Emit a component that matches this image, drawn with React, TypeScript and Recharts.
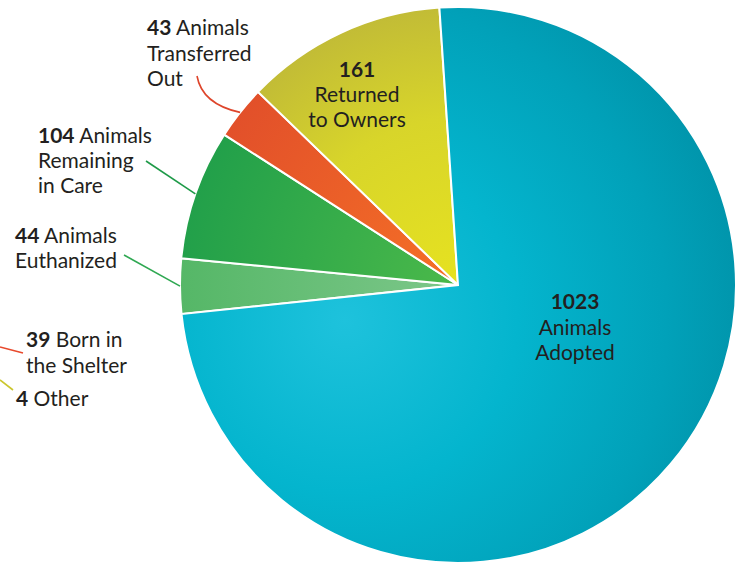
import React from 'react';
import { PieChart, Pie, Cell } from 'recharts';

// ---- data ----
const categories = [
  'Animals Euthanized',
  'Animals Remaining in Care',
  'Animals Transferred Out',
  'Returned to Owners',
  'Animals Adopted',
];
const counts = [44, 104, 43, 161, 1023];
const offChartCategories = ['Born in the Shelter', 'Other'];
const offChartCounts = [39, 4];

const data = categories.map((name, i) => ({ name, value: counts[i] }));

// ---- styling / layout (not data) ----
const FONT = 'Lato, "Open Sans", sans-serif';
const TEXT = '#231F20';
const CX = 458;
const CY = 285;
const R = 278;
const FS = 21;

const FILLS: Record<string, string> = {
  'Animals Euthanized': 'url(#gEuth)',
  'Animals Remaining in Care': 'url(#gRemain)',
  'Animals Transferred Out': 'url(#gTrans)',
  'Returned to Owners': 'url(#gReturn)',
  'Animals Adopted': 'url(#gAdopt)',
};

type Layout = {
  x: number;
  y: number;
  anchor: 'start' | 'middle';
  rest: string[];
  lh: number;
  line?: { x: number; y: number; color: string; curve?: boolean };
};

const LAYOUT: Record<string, Layout> = {
  'Animals Euthanized': {
    x: 15, y: 243, anchor: 'start', lh: 25, rest: [' Animals', 'Euthanized'],
    line: { x: 124, y: 255, color: '#2FA852' },
  },
  'Animals Remaining in Care': {
    x: 38, y: 143, anchor: 'start', lh: 25.2, rest: [' Animals', 'Remaining', 'in Care'],
    line: { x: 146, y: 161, color: '#1E9A48' },
  },
  'Animals Transferred Out': {
    x: 147, y: 35, anchor: 'start', lh: 25.5, rest: [' Animals', 'Transferred', 'Out'],
    line: { x: 197, y: 76, color: '#DE452B', curve: true },
  },
  'Returned to Owners': {
    x: 357, y: 77, anchor: 'middle', lh: 25, rest: ['', 'Returned', 'to Owners'],
  },
  'Animals Adopted': {
    x: 575, y: 309, anchor: 'middle', lh: 25.5, rest: ['', 'Animals', 'Adopted'],
  },
};

const OFF_LAYOUT: Record<string, any> = {
  'Born in the Shelter': {
    x: 26, y: 347, anchor: 'start', lh: 25.5, rest: [' Born in', 'the Shelter'],
    line: { x: 0, y: 347, x2: 23, y2: 353, color: '#E8492C' },
  },
  Other: {
    x: 16, y: 406, anchor: 'start', lh: 25, rest: [' Other'],
    line: { x: 0, y: 380, x2: 13, y2: 390, color: '#CBC62E' },
  },
};

function LabelText({ lay, value }: { lay: Layout; value: number }) {
  return (
    <text
      x={lay.x}
      y={lay.y}
      textAnchor={lay.anchor}
      fontFamily={FONT}
      fontSize={FS}
      fill={TEXT}
    >
      {lay.rest.map((t, i) =>
        i === 0 ? (
          <tspan key={i} x={lay.x} y={lay.y}>
            <tspan fontWeight={700}>{value}</tspan>
            {t}
          </tspan>
        ) : (
          <tspan key={i} x={lay.x} y={lay.y + lay.lh * i}>
            {t}
          </tspan>
        )
      )}
    </text>
  );
}

const RAD = Math.PI / 180;

function renderLabel(props: any) {
  const { cx, cy, midAngle, outerRadius, index } = props;
  const name = data[index].name;
  const value = data[index].value;
  const lay = LAYOUT[name];
  if (!lay) return null;
  let leader = null;
  if (lay.line) {
    const ex = cx + outerRadius * Math.cos(-midAngle * RAD);
    const ey = cy + outerRadius * Math.sin(-midAngle * RAD);
    const d = lay.line.curve
      ? `M${lay.line.x},${lay.line.y} Q${lay.line.x + 5},${lay.line.y + 28} ${ex},${ey}`
      : `M${lay.line.x},${lay.line.y} L${ex},${ey}`;
    leader = <path d={d} stroke={lay.line.color} strokeWidth={1.6} fill="none" />;
  }
  return (
    <g key={`lbl-${index}`}>
      {leader}
      <LabelText lay={lay} value={value} />
    </g>
  );
}

export default function App() {
  return (
    <div style={{ position: 'absolute', left: 0, top: 0, width: 745, height: 571, background: '#fff' }}>
      <PieChart width={745} height={571} margin={{ top: 0, right: 0, bottom: 0, left: 0 }}>
        <defs>
          <radialGradient id="gAdopt" gradientUnits="userSpaceOnUse" cx={345} cy={320} r={430}>
            <stop offset="0" stopColor="#1EC2DC" />
            <stop offset="0.4" stopColor="#04B5CE" />
            <stop offset="0.75" stopColor="#01A1B9" />
            <stop offset="1" stopColor="#0090A6" />
          </radialGradient>
          <radialGradient id="gReturn" gradientUnits="userSpaceOnUse" cx={CX} cy={CY} r={R}>
            <stop offset="0" stopColor="#E6E220" />
            <stop offset="0.6" stopColor="#D8D52A" />
            <stop offset="1" stopColor="#C2BC36" />
          </radialGradient>
          <radialGradient id="gTrans" gradientUnits="userSpaceOnUse" cx={CX} cy={CY} r={R}>
            <stop offset="0" stopColor="#F57026" />
            <stop offset="1" stopColor="#E2502A" />
          </radialGradient>
          <radialGradient id="gRemain" gradientUnits="userSpaceOnUse" cx={CX} cy={CY} r={R}>
            <stop offset="0" stopColor="#4BB94A" />
            <stop offset="1" stopColor="#22A04A" />
          </radialGradient>
          <radialGradient id="gEuth" gradientUnits="userSpaceOnUse" cx={CX} cy={CY} r={R}>
            <stop offset="0" stopColor="#7DC78A" />
            <stop offset="1" stopColor="#55B767" />
          </radialGradient>
        </defs>
        <Pie
          data={data}
          dataKey="value"
          nameKey="name"
          cx={CX}
          cy={CY}
          innerRadius={0}
          outerRadius={R}
          startAngle={186}
          endAngle={-174}
          stroke="#ffffff"
          strokeWidth={2}
          label={renderLabel}
          labelLine={false}
          isAnimationActive={false}
        >
          {data.map((d) => (
            <Cell key={d.name} fill={FILLS[d.name]} />
          ))}
        </Pie>
      </PieChart>
      <svg
        width={745}
        height={571}
        style={{ position: 'absolute', left: 0, top: 0, pointerEvents: 'none' }}
      >
        {offChartCategories.map((name, i) => {
          const lay = OFF_LAYOUT[name];
          return (
            <g key={name}>
              <line
                x1={lay.line.x}
                y1={lay.line.y}
                x2={lay.line.x2}
                y2={lay.line.y2}
                stroke={lay.line.color}
                strokeWidth={1.6}
              />
              <LabelText lay={lay} value={offChartCounts[i]} />
            </g>
          );
        })}
      </svg>
    </div>
  );
}
